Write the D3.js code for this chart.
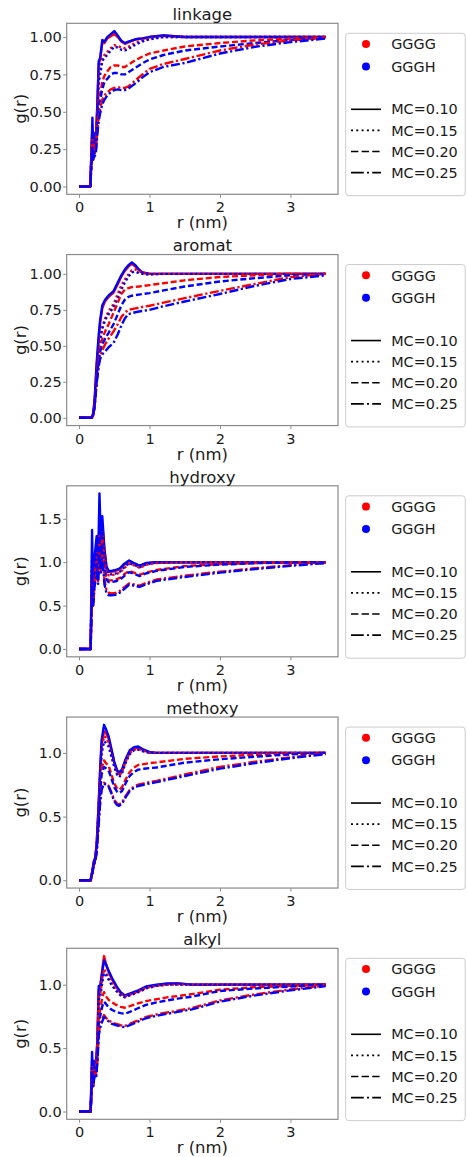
<!DOCTYPE html>
<html><head><meta charset="utf-8">
<script src="https://cdn.jsdelivr.net/npm/d3@7"></script>
<style>
body{margin:0;background:#fff}
svg{display:block}
text{font-family:"DejaVu Sans",sans-serif;fill:#1a1a1a}
</style>
</head><body>
<svg id="c" width="467" height="1157"></svg>
<script>
// ---------------- data ----------------
const panelNames = ["linkage", "aromat", "hydroxy", "methoxy", "alkyl"];
const systems = ["GGGG", "GGGH"];
const systemColors = ["#ff0000", "#0000ff"];
const mcLabels = ["MC=0.10", "MC=0.15", "MC=0.20", "MC=0.25"];
const xTicks = [0, 1, 2, 3];
const yTicksLinkage = [0, 0.25, 0.5, 0.75, 1.0];
const yTicksAromat = [0, 0.25, 0.5, 0.75, 1.0];
const yTicksHydroxy = [0, 0.5, 1.0, 1.5];
const yTicksMethoxy = [0, 0.5, 1.0];
const yTicksAlkyl = [0, 0.5, 1.0];
const rMax = 3.5;

// linkage
const rLinkage = [0,0.16,0.18,0.19,0.20,0.21,0.22,0.24,0.26,0.28,0.30,0.33,0.36,0.40,0.45,0.50,0.55,0.60,0.65,0.70,0.80,0.90,1.0,1.2,1.5,2.0,2.5,3.0,3.5];
const linkageGGGG = [
  [0,0,0.28,0.40,0.24,0.34,0.28,0.32,0.55,0.82,0.85,0.96,0.96,0.99,1.005,1.02,1.0,0.97,0.955,0.965,0.985,0.99,1.0,1.01,1.0,1.0,1.0,1.0,1.0],
  [0,0,0.26,0.36,0.22,0.33,0.26,0.30,0.50,0.72,0.77,0.86,0.88,0.90,0.925,0.945,0.94,0.93,0.925,0.935,0.96,0.98,0.99,1.0,1.0,1.0,1.0,1.0,1.0],
  [0,0,0.22,0.32,0.20,0.28,0.24,0.28,0.45,0.58,0.62,0.70,0.74,0.77,0.80,0.81,0.81,0.80,0.80,0.815,0.845,0.87,0.89,0.91,0.937,0.96,0.978,0.99,1.0],
  [0,0,0.20,0.28,0.18,0.25,0.22,0.25,0.38,0.47,0.52,0.58,0.61,0.63,0.65,0.66,0.665,0.66,0.66,0.67,0.71,0.75,0.787,0.82,0.853,0.91,0.95,0.978,0.995]
];
const linkageGGGH = [
  [0,0,0.30,0.46,0.22,0.36,0.25,0.30,0.55,0.84,0.86,0.98,0.97,1.0,1.02,1.04,1.01,0.975,0.96,0.97,0.985,0.99,1.0,1.01,1.0,1.0,1.0,1.0,1.0],
  [0,0,0.25,0.38,0.20,0.32,0.24,0.28,0.48,0.70,0.75,0.84,0.86,0.88,0.91,0.935,0.93,0.915,0.91,0.92,0.95,0.97,0.985,1.0,1.0,1.0,1.0,1.0,1.0],
  [0,0,0.20,0.30,0.18,0.26,0.22,0.26,0.42,0.55,0.58,0.65,0.70,0.72,0.75,0.76,0.76,0.75,0.75,0.765,0.795,0.825,0.85,0.88,0.91,0.937,0.96,0.98,1.0],
  [0,0,0.18,0.26,0.17,0.23,0.20,0.23,0.35,0.44,0.49,0.55,0.58,0.61,0.63,0.645,0.65,0.645,0.645,0.655,0.69,0.73,0.765,0.80,0.827,0.89,0.935,0.966,0.99]
];

// aromat
const rAromat = [0,0.18,0.20,0.22,0.25,0.28,0.30,0.33,0.37,0.42,0.49,0.55,0.60,0.65,0.70,0.75,0.80,0.85,0.90,1.0,1.2,1.5,2.0,2.5,3.0,3.5];
const aromatGGGG = [
  [0,0,0.02,0.10,0.35,0.55,0.66,0.76,0.81,0.84,0.87,0.93,0.98,1.02,1.05,1.07,1.05,1.025,1.01,1.0,1.0,1.0,1.0,1.0,1.0,1.0],
  [0,0,0.02,0.09,0.30,0.47,0.55,0.63,0.69,0.74,0.79,0.86,0.92,0.96,0.995,1.025,1.03,1.02,1.005,1.0,1.0,1.0,1.0,1.0,1.0,1.0],
  [0,0,0.02,0.08,0.27,0.42,0.49,0.55,0.60,0.65,0.73,0.80,0.86,0.89,0.90,0.908,0.91,0.912,0.915,0.922,0.935,0.955,0.978,0.99,1.0,1.0],
  [0,0,0.02,0.07,0.25,0.38,0.43,0.47,0.51,0.55,0.60,0.65,0.70,0.73,0.75,0.755,0.76,0.765,0.77,0.778,0.80,0.831,0.882,0.93,0.977,1.0]
];
const aromatGGGH = [
  [0,0,0.03,0.12,0.38,0.58,0.68,0.78,0.82,0.85,0.88,0.94,0.99,1.03,1.06,1.08,1.06,1.03,1.01,1.0,1.0,1.0,1.0,1.0,1.0,1.0],
  [0,0,0.02,0.09,0.29,0.46,0.54,0.62,0.68,0.72,0.77,0.83,0.89,0.94,0.98,1.01,1.015,1.005,1.0,0.995,1.0,1.0,1.0,1.0,1.0,1.0],
  [0,0,0.02,0.08,0.26,0.40,0.46,0.51,0.55,0.59,0.65,0.72,0.78,0.82,0.84,0.848,0.852,0.856,0.86,0.866,0.885,0.912,0.947,0.97,0.99,1.0],
  [0,0,0.02,0.07,0.24,0.36,0.41,0.44,0.46,0.49,0.52,0.58,0.64,0.69,0.72,0.727,0.733,0.738,0.742,0.75,0.775,0.808,0.86,0.917,0.964,0.99]
];

// hydroxy
const rHydroxy = [0,0.165,0.185,0.20,0.22,0.25,0.27,0.29,0.31,0.33,0.36,0.39,0.42,0.46,0.52,0.58,0.64,0.71,0.78,0.86,0.95,1.1,1.5,2.0,2.5,3.0,3.5];
const hydroxyGGGG = [
  [0,0,0.95,0.58,0.95,1.15,0.95,1.35,1.20,1.45,1.15,0.93,0.89,0.89,0.90,0.92,0.97,1.015,0.985,0.955,0.985,1.0,1.0,1.0,1.0,1.0,1.0],
  [0,0,0.90,0.55,0.90,1.10,0.92,1.30,1.10,1.35,1.05,0.90,0.85,0.85,0.86,0.88,0.93,0.98,0.965,0.935,0.97,0.99,1.0,1.0,1.0,1.0,1.0],
  [0,0,0.85,0.55,0.85,1.00,0.85,1.20,1.00,1.25,0.95,0.82,0.79,0.79,0.80,0.82,0.86,0.90,0.88,0.855,0.88,0.91,0.955,0.978,0.99,1.0,1.0],
  [0,0,0.80,0.50,0.75,0.90,0.78,1.05,0.90,1.10,0.80,0.68,0.65,0.64,0.645,0.67,0.71,0.755,0.745,0.73,0.76,0.80,0.845,0.89,0.93,0.965,0.995]
];
const hydroxyGGGH = [
  [0,0,1.37,0.60,1.05,1.30,1.00,1.79,1.25,1.53,1.15,0.95,0.90,0.90,0.91,0.93,0.98,1.02,0.99,0.96,0.99,1.0,1.0,1.0,1.0,1.0,1.0],
  [0,0,1.10,0.55,0.95,1.20,0.95,1.50,1.15,1.40,1.05,0.90,0.86,0.86,0.87,0.89,0.94,0.99,0.97,0.94,0.975,0.995,1.0,1.0,1.0,1.0,1.0],
  [0,0,0.90,0.52,0.82,0.98,0.82,1.25,0.98,1.20,0.92,0.80,0.77,0.77,0.78,0.80,0.84,0.885,0.865,0.84,0.87,0.90,0.945,0.972,0.988,0.998,1.0],
  [0,0,0.85,0.50,0.72,0.88,0.75,1.10,0.88,1.05,0.75,0.64,0.62,0.62,0.625,0.65,0.69,0.74,0.73,0.715,0.745,0.785,0.83,0.88,0.92,0.958,0.99]
];

// methoxy
const rMethoxy = [0,0.165,0.19,0.21,0.23,0.25,0.28,0.30,0.32,0.355,0.38,0.42,0.46,0.50,0.54,0.57,0.61,0.66,0.72,0.78,0.84,0.92,1.0,1.1,1.5,2.0,2.5,3.0,3.5];
const methoxyGGGG = [
  [0,0,0.07,0.14,0.17,0.27,0.60,0.85,1.06,1.17,1.16,1.11,1.02,0.92,0.855,0.835,0.86,0.94,1.01,1.035,1.04,1.02,1.005,1.0,1.0,1.0,1.0,1.0,1.0],
  [0,0,0.07,0.14,0.17,0.26,0.58,0.82,1.02,1.13,1.12,1.08,0.99,0.90,0.84,0.82,0.85,0.93,1.0,1.025,1.03,1.015,1.0,1.0,1.0,1.0,1.0,1.0,1.0],
  [0,0,0.07,0.13,0.16,0.24,0.52,0.72,0.88,0.94,0.92,0.90,0.83,0.76,0.72,0.71,0.73,0.79,0.85,0.885,0.905,0.912,0.92,0.925,0.953,0.972,0.985,0.995,1.0],
  [0,0,0.06,0.12,0.15,0.22,0.46,0.62,0.72,0.765,0.755,0.74,0.69,0.63,0.60,0.595,0.61,0.66,0.71,0.735,0.75,0.76,0.77,0.78,0.83,0.89,0.93,0.965,0.995]
];
const methoxyGGGH = [
  [0,0,0.08,0.15,0.18,0.28,0.62,0.88,1.10,1.22,1.19,1.13,1.03,0.93,0.865,0.845,0.87,0.95,1.02,1.045,1.05,1.025,1.005,1.0,1.0,1.0,1.0,1.0,1.0],
  [0,0,0.07,0.14,0.17,0.26,0.57,0.80,0.99,1.09,1.08,1.05,0.97,0.89,0.83,0.81,0.84,0.92,0.99,1.02,1.025,1.01,1.0,1.0,1.0,1.0,1.0,1.0,1.0],
  [0,0,0.07,0.13,0.16,0.24,0.50,0.69,0.83,0.89,0.88,0.86,0.80,0.73,0.695,0.685,0.70,0.76,0.82,0.85,0.868,0.875,0.88,0.885,0.923,0.95,0.97,0.988,1.0],
  [0,0,0.06,0.12,0.15,0.22,0.45,0.61,0.71,0.76,0.75,0.735,0.68,0.62,0.59,0.585,0.60,0.65,0.70,0.725,0.74,0.75,0.76,0.77,0.818,0.876,0.92,0.958,0.99]
];

// alkyl
const rAlkyl = [0,0.165,0.185,0.20,0.22,0.24,0.26,0.28,0.30,0.33,0.355,0.38,0.42,0.47,0.53,0.59,0.65,0.72,0.82,0.95,1.1,1.25,1.4,1.6,2.0,2.5,3.0,3.5];
const alkylGGGG = [
  [0,0,0.40,0.22,0.38,0.36,0.55,0.96,0.98,1.12,1.225,1.17,1.10,1.04,0.98,0.935,0.91,0.925,0.945,0.98,0.995,1.005,1.01,1.0,1.0,1.0,1.0,1.0],
  [0,0,0.35,0.21,0.36,0.34,0.52,0.90,0.92,1.05,1.12,1.10,1.06,1.01,0.96,0.925,0.905,0.92,0.94,0.975,0.99,1.0,1.0,1.0,1.0,1.0,1.0,1.0],
  [0,0,0.30,0.20,0.32,0.30,0.45,0.75,0.80,0.90,0.94,0.91,0.88,0.86,0.84,0.825,0.818,0.83,0.85,0.87,0.885,0.90,0.91,0.925,0.96,0.98,0.99,1.0],
  [0,0,0.28,0.20,0.30,0.28,0.40,0.62,0.68,0.73,0.76,0.74,0.72,0.70,0.69,0.68,0.675,0.69,0.715,0.745,0.765,0.78,0.795,0.815,0.876,0.924,0.962,0.992]
];
const alkylGGGH = [
  [0,0,0.47,0.22,0.40,0.38,0.55,0.99,0.98,1.10,1.19,1.16,1.11,1.05,0.99,0.94,0.915,0.93,0.95,0.985,1.0,1.01,1.01,1.0,1.0,1.0,1.0,1.0],
  [0,0,0.36,0.21,0.35,0.33,0.50,0.88,0.90,1.02,1.09,1.08,1.04,0.99,0.95,0.915,0.90,0.915,0.935,0.97,0.99,1.0,1.0,1.0,1.0,1.0,1.0,1.0],
  [0,0,0.32,0.20,0.30,0.28,0.42,0.70,0.75,0.83,0.865,0.85,0.82,0.80,0.785,0.775,0.77,0.785,0.81,0.84,0.86,0.875,0.89,0.905,0.95,0.97,0.985,1.0],
  [0,0,0.30,0.20,0.28,0.26,0.38,0.60,0.66,0.71,0.745,0.73,0.71,0.69,0.68,0.67,0.665,0.68,0.705,0.735,0.755,0.77,0.785,0.805,0.866,0.915,0.955,0.988]
];

// ---------------- drawing ----------------
const panelR = [rLinkage, rAromat, rHydroxy, rMethoxy, rAlkyl];
const panelSeries = [
  [linkageGGGG, linkageGGGH],
  [aromatGGGG, aromatGGGH],
  [hydroxyGGGG, hydroxyGGGH],
  [methoxyGGGG, methoxyGGGH],
  [alkylGGGG, alkylGGGH]
];
const panelYTicks = [yTicksLinkage, yTicksAromat, yTicksHydroxy, yTicksMethoxy, yTicksAlkyl];
const yFormats = [d3.format(".2f"), d3.format(".2f"), d3.format(".1f"), d3.format(".1f"), d3.format(".1f")];
const dashPatterns = [null, "2,3.3", "7.4,3.2", "12.8,3.2,2,3.2"];
const plotDash = [null, "2.3,2.6", "6,2.8", "9,2.6,2.2,2.6"];

const svg = d3.select("#c");
const axL = 66.7, axR = 338, axH = 171, top0 = 23.3, step = 231.25;
const spineColor = "#8a8a8a";

const xPad = rMax * 0.05;
const x = d3.scaleLinear().domain([-xPad, rMax + xPad]).range([axL, axR]);

panelNames.forEach((name, i) => {
  const top = top0 + i * step, bot = top + axH;
  const rs = panelR[i];
  const series = panelSeries[i];
  const allVals = series.flat(2);
  const ymin = Math.min(0, d3.min(allVals)), ymax = d3.max(allVals);
  const pad = (ymax - ymin) * 0.05;
  const y = d3.scaleLinear().domain([ymin - pad, ymax + pad]).range([bot, top]);

  const g = svg.append("g");
  const clipId = "clip" + i;
  svg.append("clipPath").attr("id", clipId).append("rect")
    .attr("x", axL).attr("y", top).attr("width", axR - axL).attr("height", axH);

  const line = d3.line().x((d, k) => x(rs[k])).y(d => y(d));
  const lg = g.append("g").attr("clip-path", `url(#${clipId})`);
  mcLabels.forEach((mc, m) => {
    systems.forEach((s, j) => {
      lg.append("path")
        .datum(series[j][m])
        .attr("d", line)
        .attr("fill", "none")
        .attr("stroke", systemColors[j])
        .attr("stroke-width", 2.4)
        .attr("stroke-linejoin", "round")
        .attr("stroke-dasharray", plotDash[m]);
    });
  });

  // axes
  const xa = g.append("g").attr("transform", `translate(0,${bot})`)
    .call(d3.axisBottom(x).tickValues(xTicks).tickFormat(d3.format("d")).tickSize(3.5).tickPadding(4.4));
  const ya = g.append("g").attr("transform", `translate(${axL},0)`)
    .call(d3.axisLeft(y).tickValues(panelYTicks[i]).tickFormat(yFormats[i]).tickSize(3.5).tickPadding(1.5));
  [xa, ya].forEach(a => {
    a.select(".domain").remove();
    a.selectAll(".tick line").attr("stroke", spineColor).attr("stroke-width", 1);
    a.selectAll(".tick text").attr("fill", "#1a1a1a").style("font-size", "14.5px").style("font-family", "DejaVu Sans");
  });

  // frame
  g.append("rect").attr("x", axL).attr("y", top).attr("width", axR - axL).attr("height", axH)
    .attr("fill", "none").attr("stroke", spineColor).attr("stroke-width", 1.2);

  // title
  g.append("text").attr("x", (axL + axR) / 2).attr("y", top - 3.3)
    .attr("text-anchor", "middle").style("font-size", "16.5px").text(name);
  // x label
  g.append("text").attr("x", (axL + axR) / 2).attr("y", bot + 34)
    .attr("text-anchor", "middle").style("font-size", "16.5px").text("r (nm)");
  // y label
  g.append("text").attr("transform", `translate(26,${(top + bot) / 2}) rotate(-90)`)
    .attr("text-anchor", "middle").style("font-size", "16.5px").text("g(r)");

  // legend
  const lgx = 345.7, lgy = top + 10;
  const leg = g.append("g").attr("transform", `translate(${lgx},${lgy})`);
  leg.append("rect").attr("x", 0).attr("y", 0).attr("width", 119.5).attr("height", 162.4)
    .attr("rx", 3).attr("fill", "#fff").attr("stroke", "#cccccc").attr("stroke-width", 1);
  const sysRows = [10.8, 33.2];
  systems.forEach((s, j) => {
    leg.append("circle").attr("cx", 20.3).attr("cy", sysRows[j]).attr("r", 4)
      .attr("fill", systemColors[j]);
    leg.append("text").attr("x", 45.5).attr("y", sysRows[j]).attr("dy", "0.36em")
      .style("font-size", "14.4px").text(s);
  });
  const mcRows = [76, 97.1, 118.2, 139.3];
  mcLabels.forEach((mc, m) => {
    leg.append("line").attr("x1", 5.3).attr("x2", 35.3).attr("y1", mcRows[m]).attr("y2", mcRows[m])
      .attr("stroke", "#000").attr("stroke-width", 1.6).attr("stroke-dasharray", dashPatterns[m]);
    leg.append("text").attr("x", 45.5).attr("y", mcRows[m]).attr("dy", "0.36em")
      .style("font-size", "14.4px").text(mc);
  });
});
</script>
</body></html>
